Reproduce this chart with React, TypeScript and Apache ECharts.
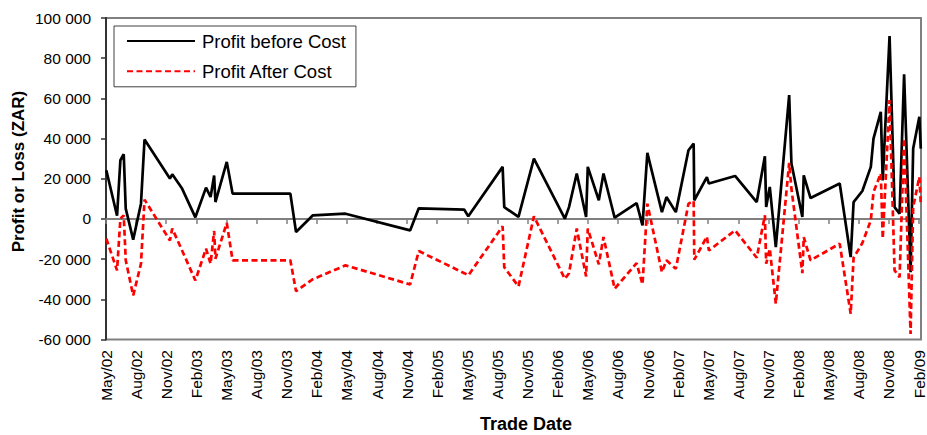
import React, { useEffect, useRef } from "react";
import * as echarts from "echarts";

const tradeDates = [
  "2002-05-02", "2002-06-04", "2002-06-14", "2002-06-24", "2002-06-30", "2002-07-23", "2002-08-16", "2002-08-27",
  "2002-11-12", "2002-11-19", "2002-12-19", "2003-01-29", "2003-02-28", "2003-03-14", "2003-03-25", "2003-03-29",
  "2003-05-02", "2003-05-20", "2003-11-12", "2003-11-29", "2004-01-20", "2004-04-27", "2004-11-10", "2004-12-06",
  "2005-04-22", "2005-05-04", "2005-08-17", "2005-08-22", "2005-10-04", "2005-11-20", "2006-02-21", "2006-03-05",
  "2006-03-29", "2006-04-26", "2006-05-01", "2006-06-04", "2006-06-18", "2006-07-22", "2006-09-27", "2006-10-15",
  "2006-10-30", "2006-12-13", "2006-12-27", "2007-01-25", "2007-03-02", "2007-03-18", "2007-03-20", "2007-04-27",
  "2007-05-03", "2007-07-22", "2007-09-26", "2007-10-21", "2007-10-25", "2007-11-05", "2007-11-23", "2008-01-03",
  "2008-01-10", "2008-02-12", "2008-02-16", "2008-03-07", "2008-06-04", "2008-07-07", "2008-07-16", "2008-08-12",
  "2008-09-07", "2008-09-15", "2008-10-07", "2008-10-13", "2008-11-03", "2008-11-18", "2008-12-03", "2008-12-17",
  "2009-01-06", "2009-01-14", "2009-02-02", "2009-02-06",
];

const profitBeforeCost = [
  24200, 1600, 29200, 32200, 5100, -10300, 7600, 39500,
  20100, 22200, 15100, 800, 15600, 10900, 21600, 8400,
  28400, 12600, 12600, -6500, 1800, 2600, -5700, 5300,
  4600, 1300, 25900, 5900, 1000, 30000, 100, 5900,
  22600, 1000, 25900, 9300, 22600, 600, 7900, -3200,
  32900, 3400, 10900, 3400, 34200, 37500, 9300, 20800,
  17600, 21400, 8400, 31200, 5900, 15900, -14000, 61600,
  27600, 1000, 21700, 10400, 17600, -19000, 8400, 13900,
  25900, 40000, 53300, 19200, 91000, 5900, 2600, 72000,
  -26500, 35000, 50800, 35000,
];

const profitAfterCost = [
  -9800, -25600, 100, 1800, -20600, -38100, -22300, 9600,
  -10700, -4800, -15700, -30600, -14800, -22300, -6000, -19800,
  -2000, -20600, -20600, -36000, -30000, -23100, -32600, -16000,
  -27000, -28100, -3700, -24000, -33600, 1300, -29800, -27000,
  -4800, -28600, -4800, -22600, -9000, -34700, -22000, -32600,
  7600, -26500, -20600, -24800, 7600, 8900, -20300, -8800,
  -15700, -5700, -19300, 1800, -22300, -14800, -42200, 27900,
  15000, -27000, -9000, -20600, -12300, -47200, -19300, -12000,
  -700, 13400, 22600, -9800, 59100, -25600, -29000, 40000,
  -57200, 5900, 20900, 7600,
];

const seriesNames = ["Profit before Cost", "Profit After Cost"];
const monthNames = ["Jan", "Feb", "Mar", "Apr", "May", "Jun", "Jul", "Aug", "Sep", "Oct", "Nov", "Dec"];
const yTicks = { min: -60000, max: 100000, step: 20000 };
const xAxisTitle = "Trade Date";
const yAxisTitle = "Profit or Loss (ZAR)";

// axis origin: May 2002 (month index 0), end a few days into Feb 2009
const ORIGIN_YEAR = 2002;
const ORIGIN_MONTH = 5;
const X_MAX = 81.2;

const FONT = '"Liberation Sans", Arial, Helvetica, sans-serif';

function monthIndex(d: string): number {
  const [y, m, day] = d.split("-").map(Number);
  const dim = new Date(y, m, 0).getDate();
  return (y - ORIGIN_YEAR) * 12 + (m - ORIGIN_MONTH) + (day - 1) / dim;
}

function monthLabel(v: number): string {
  const r = Math.round(v);
  if (Math.abs(v - r) > 0.01 || r % 3 !== 0) return "";
  const total = ORIGIN_MONTH - 1 + r;
  const year = ORIGIN_YEAR + Math.floor(total / 12);
  return `${monthNames[total % 12]}/${String(year % 100).padStart(2, "0")}`;
}

function spaced(v: number): string {
  const s = Math.abs(v).toString().replace(/\B(?=(\d{3})+(?!\d))/g, " ");
  return (v < 0 ? "-" : "") + s;
}

export default function App() {
  const ref = useRef<HTMLDivElement>(null);

  useEffect(() => {
    document.body.style.margin = "0";
    if (!ref.current) return;
    const chart = echarts.init(ref.current, undefined, { renderer: "svg" });

    const xs = tradeDates.map(monthIndex);

    chart.setOption({
      animation: false,
      backgroundColor: "#ffffff",
      textStyle: { fontFamily: FONT },
      grid: {
        left: 106,
        top: 18,
        right: 1.5,
        bottom: 95.5,
        show: true,
        borderColor: "#808080",
        borderWidth: 2,
        backgroundColor: "transparent",
      },
      legend: {
        orient: "vertical",
        left: 114,
        top: 26,
        padding: [5.5, 10, 6, 12],
        itemGap: 11.3,
        itemWidth: 68,
        itemHeight: 18,
        borderColor: "#404040",
        borderWidth: 1,
        backgroundColor: "#ffffff",
        itemStyle: { opacity: 0, borderWidth: 0 },
        textStyle: { fontSize: 18.5, fontFamily: FONT, color: "#000", padding: [0, 0, 0, 2] },
        data: seriesNames,
      },
      xAxis: [
        {
          type: "value",
          min: 0,
          max: X_MAX,
          interval: 3,
          position: "bottom",
          axisLine: { show: false, onZero: false },
          axisTick: { show: false },
          splitLine: { show: false },
          axisLabel: {
            rotate: 90,
            margin: 10.5,
            fontSize: 15.5,
            fontFamily: FONT,
            color: "#000",
            showMaxLabel: false,
            formatter: (v: number) => monthLabel(v),
          },
        },
        {
          type: "value",
          min: 0,
          max: X_MAX,
          interval: 3,
          position: "bottom",
          axisLine: { show: true, onZero: true, lineStyle: { color: "#808080", width: 2 } },
          axisTick: { show: true, length: 5, lineStyle: { color: "#808080", width: 1.5 } },
          splitLine: { show: false },
          axisLabel: { show: false },
        },
      ],
      yAxis: {
        type: "value",
        min: yTicks.min,
        max: yTicks.max,
        interval: yTicks.step,
        axisLine: { show: true, lineStyle: { color: "#333333", width: 2 } },
        axisTick: { show: true, length: 5, lineStyle: { color: "#333333", width: 1.5 } },
        splitLine: { show: false },
        axisLabel: {
          margin: 15,
          fontSize: 15.5,
          fontFamily: FONT,
          color: "#000",
          formatter: (v: number) => spaced(v),
        },
      },
      graphic: [
        {
          type: "text",
          x: 18,
          y: 171.5,
          rotation: Math.PI / 2,
          style: {
            text: yAxisTitle,
            font: `bold 17px ${FONT}`,
            fill: "#000",
            align: "center",
            verticalAlign: "middle",
          },
        },
        {
          type: "text",
          x: 526,
          y: 424,
          style: {
            text: xAxisTitle,
            font: `bold 18px ${FONT}`,
            fill: "#000",
            align: "center",
            verticalAlign: "middle",
          },
        },
      ],
      series: [
        {
          name: seriesNames[0],
          type: "line",
          xAxisIndex: 0,
          symbol: "none",
          showSymbol: false,
          data: xs.map((x, i) => [x, profitBeforeCost[i]]),
          lineStyle: { color: "#000000", width: 2.7 },
          itemStyle: { color: "#000000" },
        },
        {
          name: seriesNames[1],
          type: "line",
          xAxisIndex: 0,
          symbol: "none",
          showSymbol: false,
          data: xs.map((x, i) => [x, profitAfterCost[i]]),
          lineStyle: { color: "#ff0000", width: 2.7, type: [6, 3.5] },
          itemStyle: { color: "#ff0000" },
        },
      ],
    });

    return () => chart.dispose();
  }, []);

  return <div ref={ref} style={{ width: 927, height: 435 }} />;
}
